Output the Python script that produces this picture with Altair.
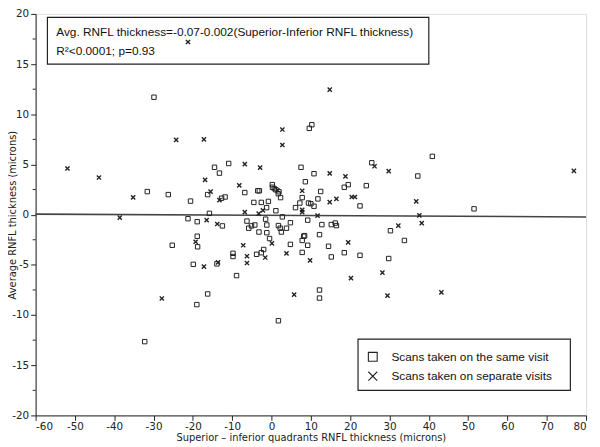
import altair as alt
import pandas as pd

# ---------------- data ----------------
same_x = [-29.9, -31.6, -26.25, -20.6, -21.25, -18.9, -18.9, -18.8, -25.25, -19.9,
          -19.0, -32.25, -14.5, -10.9, -13.25, -16.25, -12.7, -11.8, -6.8, -3.5,
          -3.1, -4.5, -2.6, -0.8, 0.2, 0.25, 0.7, 1.1, 1.9, 1.7,
          2.3, -1.25, 1.1, 6.1, -15.8, -6.25, -1.5, 2.75, -12.5, -5.8,
          -5.1, -4.25, -1.2, -3.2, -1.2, 1.75, 2.2, 2.5, 3.8, 4.8,
          -0.5, 4.8, -2.0, -2.6, -3.8, -9.8, -9.8, -13.9, -8.9, -16.25,
          1.75, 9.6, 10.25, 40.9, 7.5, 10.8, 25.5, 37.2, 8.6, 18.5,
          19.5, 24.1, 12.5, 7.8, 11.8, 22.5, 7.2, 9.4, 10.0, 10.8,
          9.2, 12.8, 15.2, 16.2, 16.5, 30.25, 33.8, 8.2, 8.4, 7.8,
          12.2, 9.2, 14.5, 7.8, 15.2, 18.5, 22.5, 29.8, 12.2, 12.2,
          51.5]
same_y = [11.7, 2.3, 2.0, 1.35, -0.4, -0.7, -2.15, -3.2, -3.05, -4.95,
          -8.96, -12.65, 4.72, 5.1, 4.14, 2.0, 1.64, 1.76, 2.2, 2.38,
          2.38, 1.22, 1.22, 1.32, 2.99, 2.73, 2.6, 2.48, 2.28, 2.09,
          1.7, 0.7, 0.39, 0.7, 0.13, -0.64, -0.45, -0.22, -1.12, -1.35,
          -1.12, -1.03, -1.03, -1.73, -1.8, -1.09, -1.35, -1.73, -1.35, -0.8,
          -2.38, -2.96, -3.47, -3.79, -3.95, -3.85, -4.17, -4.9, -6.07, -7.9,
          -10.57, 8.6, 8.96, 5.81, 4.72, 4.08, 5.17, 3.85, 3.28, 2.73,
          2.99, 2.89, 2.31, 1.7, 1.57, 0.87, 1.16, 1.16, 1.09, 0.84,
          -0.55, -0.99, -0.99, -0.84, -1.09, -1.6, -2.57, -2.15, -2.09, -2.57,
          -1.99, -3.05, -3.15, -3.76, -4.21, -3.79, -4.05, -4.37, -7.51, -8.31,
          0.58]

sep_x = [-21.25, -24.25, -51.9, -43.9, -35.2, -38.6, -19.3, -27.9, -17.2, 2.75,
         2.75, -6.8, -2.9, -16.9, -8.2, -15.5, -13.25, -2.2, -6.8, -3.25,
         -16.5, -13.8, 0.1, -7.2, -6.25, -1.6, 3.8, -17.2, -13.6, -6.25,
         5.75, 14.8, 14.8, 18.8, 26.2, 29.8, 7.8, 20.4, 21.2, 16.5,
         14.8, 36.8, 7.8, 7.8, 11.7, 37.6, 38.2, 32.25, 19.5, 9.8,
         28.2, 20.2, 29.5, 76.9, 43.2, 1.5]
sep_y = [17.2, 7.45, 4.6, 3.7, 1.73, -0.3, -2.7, -8.35, 7.5, 8.48,
         6.94, 5.04, 4.69, 3.47, 2.92, 2.3, 1.45, 0.42, 0.26, 0.1,
         -0.55, -0.93, -2.86, -3.05, -4.14, -4.27, -3.85, -5.17, -4.75, -4.82,
         -7.96, 12.46, 4.11, 3.82, 4.82, 4.34, 2.38, 1.76, 1.76, 1.57,
         1.25, 1.32, 0.48, 0.26, -0.1, -0.07, -0.84, -1.09, -2.76, -4.56,
         -5.78, -6.33, -8.06, 4.37, -7.74, 2.41]

# regression line: Avg = -0.07 - 0.002 * diff, at the ends of the x range
reg_x = [-60, 80]
reg_y = [0.05, -0.23]

eq_lines = ["Avg. RNFL thickness=-0.07-0.002(Superior-Inferior RNFL thickness)",
            "R\u00b2<0.0001; p=0.93"]
legend_labels = ["Scans taken on the same visit", "Scans taken on separate visits"]
minor_y = [17.5, 12.5, 7.5, 2.5, -2.5, -7.5, -12.5, -17.5]

x_title = "Superior \u2013 inferior quadrants RNFL thickness (microns)"
y_title = "Average RNFL thickness (microns)"

# ---------------- tables ----------------
df_same = pd.DataFrame({"x": same_x, "y": same_y})
df_sep = pd.DataFrame({"x": sep_x, "y": sep_y})
df_reg = pd.DataFrame({"x": reg_x, "y": reg_y})
df_minor = pd.DataFrame({"y": minor_y})
df_eqbox = pd.DataFrame({"x": [-57], "x2": [40], "y": [19.65], "y2": [15.0]})
df_eqtext = pd.DataFrame({"x": [-54.75, -54.75], "y": [18.2, 16.3], "t": eq_lines})
df_legbox = pd.DataFrame({"x": [22], "x2": [76], "y": [-12.4], "y2": [-17.5]})
df_legsym = pd.DataFrame({"x": [25.75, 25.75], "y": [-14.16, -16.09]})
df_legtext = pd.DataFrame({"x": [30.5, 30.5], "y": [-14.16, -16.09], "t": legend_labels})

INK = "#222222"
LAB_FONT = "DejaVu Sans"
TXT_FONT = "Liberation Sans"

xscale = alt.Scale(domain=[-60, 80], nice=False, zero=False)
yscale = alt.Scale(domain=[-20, 20], nice=False, zero=False)

xaxis = alt.Axis(values=list(range(-60, 81, 10)), grid=False, domainColor=INK,
                 tickColor=INK, tickSize=5, labelFont=LAB_FONT, labelFontSize=10.5,
                 labelColor=INK, labelPadding=1,
                 labelExpr="replace(datum.label, '\u2212', '-')",
                 titleFont=LAB_FONT, titleFontSize=10, titleFontWeight="normal",
                 titleColor=INK, titlePadding=1)
yaxis = alt.Axis(values=list(range(-20, 21, 5)), grid=False, domainColor=INK,
                 tickColor=INK, tickSize=5, labelFont=LAB_FONT, labelFontSize=10.5,
                 labelColor=INK, labelPadding=2,
                 labelExpr="replace(datum.label, '\u2212', '-')",
                 titleFont=LAB_FONT, titleFontSize=10, titleFontWeight="normal",
                 titleColor=INK, titleX=-18, titleBaseline="bottom")


def X(field="x"):
    return alt.X(f"{field}:Q", scale=xscale, axis=xaxis, title=x_title)


def Y(field="y"):
    return alt.Y(f"{field}:Q", scale=yscale, axis=yaxis, title=y_title)


eq_box = alt.Chart(df_eqbox).mark_rect(fill="white", stroke=INK, strokeWidth=1.2).encode(
    x=X(), x2="x2:Q", y=Y(), y2="y2:Q")

minor = alt.Chart(df_minor).mark_rule(color=INK, strokeWidth=1).encode(
    y=Y(), x=alt.value(-3), x2=alt.value(0))

reg = alt.Chart(df_reg).mark_line(color="#444444", strokeWidth=1.6).encode(x=X(), y=Y())

same = alt.Chart(df_same).mark_point(shape="square", filled=False, size=20,
                                     strokeWidth=1, color=INK, opacity=1).encode(x=X(), y=Y())

CROSS = "M-1,-1L1,1M1,-1L-1,1"
sep = alt.Chart(df_sep).mark_point(shape=CROSS, filled=False, size=18,
                                   strokeWidth=1.4, color=INK, opacity=1).encode(x=X(), y=Y())

eq_text = alt.Chart(df_eqtext).mark_text(align="left", baseline="middle", font=TXT_FONT,
                                         fontSize=12, color="#111111").encode(
    x=X(), y=Y(), text="t:N")

leg_box = alt.Chart(df_legbox).mark_rect(fill="white", stroke=INK, strokeWidth=1.2).encode(
    x=X(), x2="x2:Q", y=Y(), y2="y2:Q")

leg_sq = alt.Chart(df_legsym.iloc[[0]]).mark_point(shape="square", filled=False, size=80,
                                                   strokeWidth=1.1, color=INK, opacity=1).encode(
    x=X(), y=Y())
leg_x = alt.Chart(df_legsym.iloc[[1]]).mark_point(shape=CROSS, filled=False, size=80,
                                                  strokeWidth=1.1, color=INK, opacity=1).encode(
    x=X(), y=Y())

leg_text = alt.Chart(df_legtext).mark_text(align="left", baseline="middle", font=TXT_FONT,
                                           fontSize=12, color="#111111").encode(
    x=X(), y=Y(), text="t:N")

chart = alt.layer(eq_box, minor, reg, same, sep, eq_text, leg_box, leg_sq, leg_x, leg_text).properties(
    width=558, height=407,
    padding={"left": 28, "top": 3, "right": 6, "bottom": 27},
    autosize=alt.AutoSizeParams(type="none"),
).configure_view(stroke=INK, strokeWidth=1.2).configure(background="white")

chart.save("out.html", embed_options={"renderer": "svg", "actions": False})
